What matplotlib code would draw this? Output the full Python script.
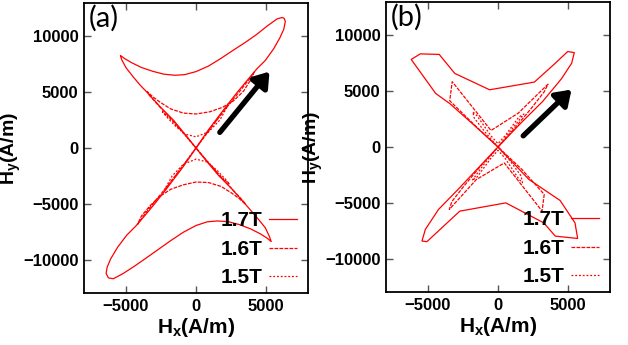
"""Rotational H-locus (Hx vs Hy) for three flux densities, panels (a) and (b)."""

import matplotlib

matplotlib.use("Agg")
import matplotlib.pyplot as plt

plt.rcParams["font.family"] = ["Liberation Sans", "DejaVu Sans"]
plt.rcParams["mathtext.fontset"] = "custom"
plt.rcParams["mathtext.rm"] = "Liberation Sans:bold"
plt.rcParams["mathtext.it"] = "Liberation Sans:bold"
plt.rcParams["mathtext.bf"] = "Liberation Sans:bold"

RED = "#ff0000"
LABELS = ["1.7T", "1.6T", "1.5T"]
STYLES = ["-", (0, (3, 1)), (0, (1.5, 1.5))]

# ---- panel (a): smooth loci ----
a17_x = [0, 900, 2200, 2950, 3650, 4350, 4950, 5550, 6000, 6270, 6380, 6300, 6150, 5800,
         5100, 4300, 3500, 2700, 1800, 900, 0, -800, -1500, -2300, -3100, -3900, -4600,
         -5100, -5350, -5400, -5300, -5000, -4500, -4000, -3500, -2550, -1600, -700, 0,
         -900, -2100, -2950, -3650, -4300, -4950, -5600, -6100, -6350, -6420, -6250, -5900,
         -5200, -4400, -3600, -2700, -1800, -900, 0, 800, 1500, 2300, 3100, 3900, 4600,
         5100, 5370, 5250, 4950, 4450, 3950, 3500, 2550, 1600, 700, 0]
a17_y = [0, 1650, 3800, 5000, 6050, 7100, 7850, 8900, 9900, 10650, 11350, 11620, 11700, 11580,
         10950, 10150, 9450, 8800, 8050, 7350, 6850, 6580, 6520, 6620, 6880, 7220, 7650,
         8020, 8250, 8280, 7900, 7200, 6400, 5650, 5000, 3680, 2480, 1100, 0,
         -1650, -3650, -5000, -6050, -7000, -7820, -8900, -9950, -10700, -11250, -11650, -11720,
         -11250, -10600, -9900, -9100, -8300, -7550, -6950, -6620, -6540, -6600, -6870, -7250, -7700,
         -8100, -8390, -7950, -7150, -6380, -5650, -5000, -3650, -2450, -1100, 0]

a16_x = [0, 1000, 2100, 3100, 3700, 4150, 3900, 3400, 2700, 1900, 1000, 0, -900, -1800,
         -2500, -3100, -3480, -3350, -2600, -1700, -800, 0,
         -1000, -2100, -3100, -3700, -4180, -3900, -3300, -2600, -1800, -900, 0, 900, 1800,
         2500, 3100, 3540, 3400, 2700, 1750, 850, 0]
a16_y = [0, 1700, 3500, 5050, 6000, 6800, 6100, 5100, 4250, 3650, 3250, 3050, 3130, 3500,
         4050, 4600, 5060, 4750, 3700, 2500, 1200, 0,
         -1700, -3500, -5050, -6000, -6850, -6100, -5200, -4350, -3700, -3300, -3050, -3100, -3450,
         -4000, -4550, -5050, -4800, -3850, -2550, -1250, 0]

a15_x = [0, 800, 1600, 2300, 1700, 900, 0, -800, -1500, -2100, -2400, -1700, -850, 0,
         -800, -1600, -2300, -1700, -900, 0, 800, 1500, 2100, 2400, 1700, 850, 0]
a15_y = [0, 1350, 2700, 3850, 2500, 1450, 1000, 1250, 2000, 2800, 3250, 2450, 1250, 0,
         -1350, -2700, -3850, -2500, -1450, -1000, -1250, -2000, -2800, -3250, -2450, -1250, 0]

# ---- panel (b): coarse, piecewise loci ----
b17_x = [0, 1600, 3200, 4540, 5260, 5450, 4980, 4090, 2600, -600, -3090, -4200, -5550, -6200,
         -4450, -3450, -1700, 0, -1500, -2850, -4250, -5190, -5430, -5080, -2730, 560, 3270,
         4090, 5690, 5500, 4440, 2200, 0]
b17_y = [0, 2100, 4100, 6130, 7510, 8460, 8560, 7510, 5820, 5130, 6600, 8300, 8350, 7850,
         4800, 3900, 1950, 0, -2000, -3800, -5600, -7390, -8430, -8490, -5750, -5010, -6800,
         -7990, -8200, -6800, -4800, -2900, 0]

b16_x = [0, 1200, 2400, 3300, 3570, 1450, -500, -3270, -3450, -1700, 0,
         -1200, -2400, -3300, -3480, -1550, 450, 3150, 3300, 1700, 0]
b16_y = [0, 1700, 3500, 4950, 5630, 3040, 1480, 5860, 4150, 2000, 0,
         -1650, -3450, -4900, -5600, -2920, -1430, -5750, -4250, -2000, 0]

b15_x = [0, 1000, 1850, 1500, 500, 0, -500, -1500, -1800, -1700, -900, 0,
         -1000, -1850, -1500, -500, 0, 500, 1500, 1750, 1650, 900, 0]
b15_y = [0, 1600, 2950, 2700, 1000, 300, 1000, 2800, 3150, 2600, 1300, 0,
         -1550, -3000, -2700, -1000, -300, -1000, -2900, -3200, -2600, -1300, 0]

arrow_a = ((1700, 1400), (5250, 6850))
arrow_b = ((1800, 1000), (5250, 5150))


def draw_panel(fig, rect, tag, curves, arrow):
    ax = fig.add_axes(rect)
    for (xs, ys), label, style in zip(curves, LABELS, STYLES):
        ax.plot(xs, ys, color=RED, lw=0.9, ls=style, label=label)
    (x0, y0), (x1, y1) = arrow
    ax.annotate("", xy=(x1, y1), xytext=(x0, y0),
                arrowprops=dict(arrowstyle="-|>,head_length=0.8,head_width=0.55",
                                lw=3.8, color="black", shrinkA=0, shrinkB=0,
                                mutation_scale=11))
    ax.set_xlim(-8000, 8000)
    ax.set_ylim(-13000, 13000)
    ax.set_xticks([-5000, 0, 5000])
    ax.set_yticks([-10000, -5000, 0, 5000, 10000])
    ax.tick_params(direction="in", top=True, right=True, length=5, width=1,
                   color="#555555", labelsize=12, pad=4)
    for lab in ax.get_xticklabels() + ax.get_yticklabels():
        lab.set_fontweight("bold")
    for sp in ax.spines.values():
        sp.set_linewidth(1.3)
    ax.set_xlabel(r"$\mathbf{H_x}$(A/m)", fontsize=15, fontweight="bold", labelpad=2)
    ax.set_ylabel(r"$\mathbf{H_y}$(A/m)", fontsize=14, fontweight="bold", labelpad=0)
    ax.text(0.02, 0.995, tag, transform=ax.transAxes, va="top", ha="left",
            fontsize=21, family=["Lato", "DejaVu Sans"])
    ax.legend(loc="lower right", bbox_to_anchor=(0.95, 0.02), frameon=False,
              markerfirst=False, handlelength=1.35, handletextpad=0.3,
              labelspacing=0.45, borderpad=0, borderaxespad=0,
              prop=dict(size=15, weight="bold"))
    return ax


fig = plt.figure(figsize=(6.28, 3.45), dpi=100)
draw_panel(fig, [84 / 628, 52 / 345, 224 / 628, 290 / 345], "(a)",
           [(a17_x, a17_y), (a16_x, a16_y), (a15_x, a15_y)], arrow_a)
draw_panel(fig, [386 / 628, 53 / 345, 224 / 628, 290 / 345], "(b)",
           [(b17_x, b17_y), (b16_x, b16_y), (b15_x, b15_y)], arrow_b)
fig.savefig("out.png", dpi=100)
